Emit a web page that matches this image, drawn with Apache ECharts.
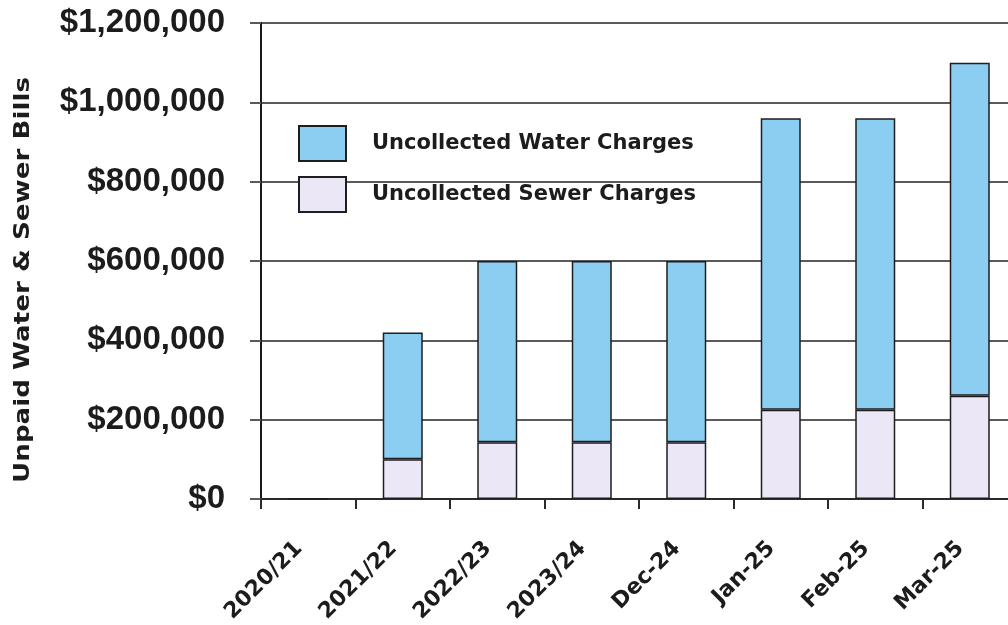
<!DOCTYPE html>
<html>
<head>
<meta charset="utf-8">
<style>
  html, body { margin: 0; padding: 0; background: #ffffff; }
  #chart { width: 1008px; height: 625px; }
</style>
<script src="https://cdn.jsdelivr.net/npm/echarts@6/dist/echarts.min.js"></script>
</head>
<body>
<div id="chart"></div>
<script>
// Periods shown along the bottom axis
const categories = ['2020/21', '2021/22', '2022/23', '2023/24', 'Dec-24', 'Jan-25', 'Feb-25', 'Mar-25'];

// Uncollected sewer charges (bottom segment of each stack)
const sewerCharges = [0, 100000, 143000, 143000, 143000, 225000, 225000, 260000];

// Uncollected water charges (upper segment of each stack)
const waterCharges = [0, 320000, 457000, 457000, 457000, 735000, 735000, 840000];

// Value axis ticks
const yMin = 0;
const yMax = 1200000;
const yStep = 200000;

const textColor = '#1c1c1c';
const gridColor = '#5a5a5a';

const chart = echarts.init(document.getElementById('chart'), null, { renderer: 'canvas' });

chart.setOption({
  animation: false,
  backgroundColor: '#ffffff',
  grid: {
    left: 261, right: -9, top: 23, bottom: 126,
    containLabel: false,
    outerBoundsMode: 'none'
  },
  legend: {
    orient: 'vertical',
    left: 298,
    top: 125,
    padding: 0,
    itemWidth: 47,
    itemHeight: 35,
    itemGap: 14,
    icon: 'rect',
    textStyle: {
      fontFamily: 'DejaVu Sans',
      fontWeight: 'bold',
      fontSize: 21,
      color: textColor,
      padding: [0, 0, 0, 21]
    },
    data: ['Uncollected Water Charges', 'Uncollected Sewer Charges']
  },
  xAxis: {
    type: 'category',
    data: categories,
    boundaryGap: true,
    axisLine: { show: true, lineStyle: { color: '#2a2a2a', width: 2 } },
    axisTick: { show: true, length: 10, alignWithLabel: false, lineStyle: { color: '#2a2a2a', width: 2 } },
    axisLabel: {
      rotate: 45,
      margin: 37,
      interval: 0,
      padding: [0, 13, 0, 0],
      fontFamily: 'DejaVu Sans',
      fontWeight: 'bold',
      fontSize: 22,
      color: textColor
    }
  },
  yAxis: {
    type: 'value',
    min: yMin,
    max: yMax,
    interval: yStep,
    axisLine: { show: true, lineStyle: { color: '#1a1a1a', width: 2 } },
    axisTick: { show: true, length: 11, lineStyle: { color: gridColor, width: 2 } },
    splitLine: { show: true, lineStyle: { color: gridColor, width: 2 } },
    axisLabel: {
      margin: 36,
      fontFamily: 'Liberation Sans',
      fontWeight: 'bold',
      fontSize: 33,
      color: textColor,
      formatter: v => '$' + v.toLocaleString('en-US')
    }
  },
  graphic: [{
    type: 'text',
    left: 12,
    top: 77,
    rotation: Math.PI / 2,
    scaleX: 1.19,
    style: {
      text: 'Unpaid Water & Sewer Bills',
      fontFamily: 'DejaVu Sans',
      fontWeight: 'bold',
      fontSize: 22,
      fill: textColor
    }
  }],
  series: [
    {
      name: 'Uncollected Sewer Charges',
      type: 'bar',
      stack: 'charges',
      barWidth: 40,
      data: sewerCharges,
      itemStyle: { color: '#ebe7f7', borderColor: '#1e1e1e', borderWidth: 1.5 }
    },
    {
      name: 'Uncollected Water Charges',
      type: 'bar',
      stack: 'charges',
      barWidth: 40,
      data: waterCharges,
      itemStyle: { color: '#8ccdf2', borderColor: '#1e1e1e', borderWidth: 1.5 }
    }
  ]
});
</script>
</body>
</html>
